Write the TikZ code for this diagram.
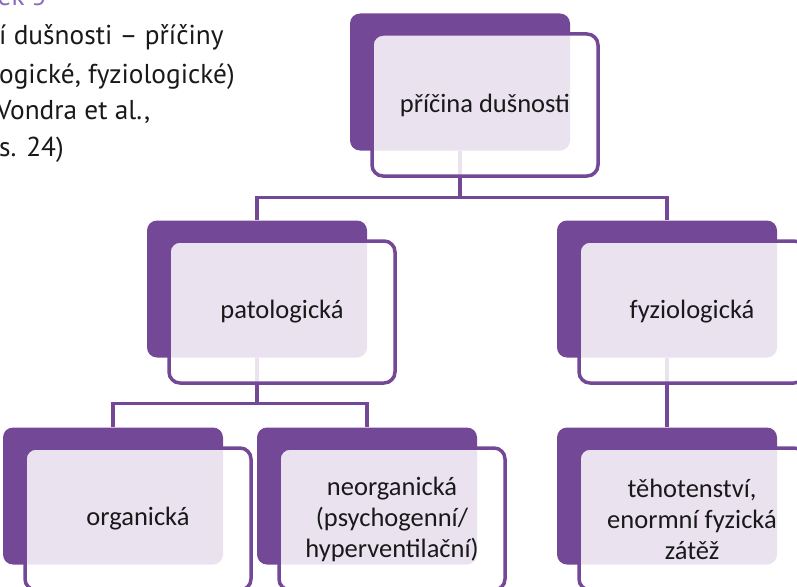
\documentclass[tikz,border=0pt]{standalone}
\usepackage{fontspec}
\setmainfont{Carlito}
\newfontfamily\captionfont{PT Sans}
\usetikzlibrary{positioning}
\definecolor{smartpurple}{RGB}{115,72,150}
\definecolor{captionpurple}{RGB}{140,106,192}

\begin{document}
\begin{tikzpicture}[x=1pt, y=-1pt,
    backbox/.style={fill=smartpurple, rounded corners=10pt, minimum width=220pt, minimum height=137pt, inner sep=0pt},
    frontbox/.style={draw=smartpurple, line width=3.5pt, fill=white, fill opacity=0.85, text opacity=1, rounded corners=11pt, minimum width=226pt, minimum height=142pt, align=center, font=\fontsize{26.5}{31}\selectfont, text=black!90},
    link/.style={draw=smartpurple, line width=3.5pt},
    captiontext/.style={inner sep=0pt, font=\captionfont\fontsize{27.3}{37}\selectfont, text=black!90}]

    \useasboundingbox (0,0) rectangle (797,586);
    \clip (0,0) rectangle (797,586);

    % Caption (cut off at the left edge)
    \node[captiontext, text=captionpurple, anchor=base east] (cap0) at (47,6) {ek 5};
    \node[captiontext, anchor=base west] (cap1) at (-1,45) {í dušnosti – příčiny};
    \node[captiontext, anchor=base west] (cap2) at (-1,83) {ogické, fyziologické)};
    \node[captiontext, anchor=base west] (cap3) at (-4,119) {Vondra et al.,};
    \node[captiontext, anchor=base west] (cap4) at (-1,156) {s. 24)};

    % Back boxes
    \node[backbox] (root-bk) at (460,82) {};
    \node[backbox] (pato-bk) at (257,289) {};
    \node[backbox] (fyzio-bk) at (667,289) {};
    \node[backbox] (organ-bk) at (113,496) {};
    \node[backbox] (neorg-bk) at (367,496) {};
    \node[backbox] (tehot-bk) at (667,496) {};

    % Connections
    \draw[link] (root-bk.south) -- ++(0,47) -| (pato-bk.north);
    \draw[link] (root-bk.south) -- ++(0,47) -| (fyzio-bk.north);
    \draw[link] (pato-bk.south) -- ++(0,46) -| (organ-bk.north);
    \draw[link] (pato-bk.south) -- ++(0,46) -| (neorg-bk.north);
    \draw[link] (fyzio-bk.south) -- (tehot-bk.north);

    % Front boxes
    \node[frontbox] (root) at ([shift={(25,23)}]root-bk.center) {příčina dušnosti};
    \node[frontbox] (pato) at ([shift={(25,23)}]pato-bk.center) {patologická};
    \node[frontbox] (fyzio) at ([shift={(25,23)}]fyzio-bk.center) {fyziologická};
    \node[frontbox] (organ) at ([shift={(25,23)}]organ-bk.center) {organická};
    \node[frontbox] (neorg) at ([shift={(25,23)}]neorg-bk.center) {neorganická\\(psychogenní/\\hyperventilační)};
    \node[frontbox] (tehot) at ([shift={(25,23)}]tehot-bk.center) {těhotenství,\\enormní fyzická\\zátěž};

\end{tikzpicture}
\end{document}
